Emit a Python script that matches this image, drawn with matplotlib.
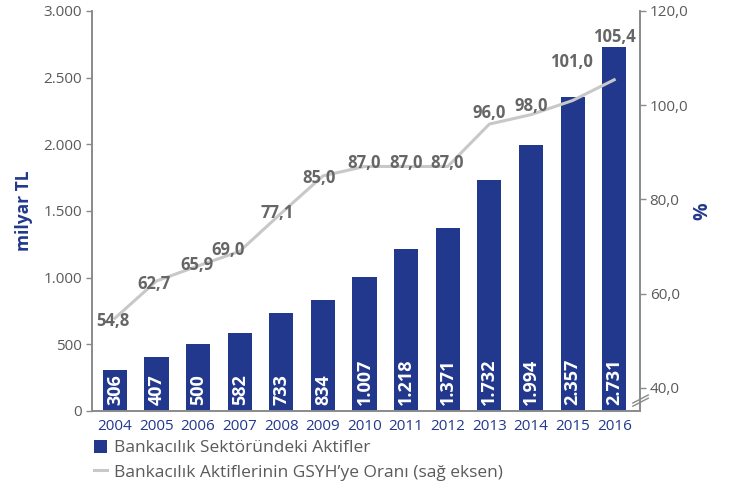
import matplotlib.pyplot as plt
from matplotlib.lines import Line2D
from matplotlib.patches import Patch
from matplotlib.ticker import FuncFormatter

plt.rcParams['font.family'] = ['Open Sans', 'DejaVu Sans']

years = ['2004', '2005', '2006', '2007', '2008', '2009', '2010',
         '2011', '2012', '2013', '2014', '2015', '2016']
assets = [306, 407, 500, 582, 733, 834, 1007, 1218, 1371, 1732, 1994, 2357, 2731]
gdp_ratio = [54.8, 62.7, 65.9, 69.0, 77.1, 85.0, 87.0, 87.0, 87.0, 96.0, 98.0, 101.0, 105.4]

navy = '#21388c'
grey_line = '#c8c8c8'
grey_axis = '#8a8a8a'
grey_text = '#5a5a5a'

# label nudges in pixels (x, y)
ratio_offsets = [(-2, -3), (-2, -3), (-1, 1), (-12, 1), (-4, 0), (-4, -2), (0, 3),
                 (0, 3), (-1, 3), (0, 11), (0, 9), (-1, 39), (0, 43)]


def tr_thousands(v, pos):
    return f"{int(v):,}".replace(",", ".")


def tr_decimal(v, pos):
    return f"{v:.1f}".replace(".", ",")


fig = plt.figure(figsize=(7.34, 4.92), dpi=100)
ax1 = fig.add_axes([92 / 734, 1 - 411 / 492, 548 / 734, 400 / 492])
ax2 = ax1.twinx()

x = list(range(len(years)))
ax1.bar(x, assets, width=0.58, color=navy, zorder=2)
for i, v in enumerate(assets):
    ax1.text(i, 45, tr_thousands(v, None), rotation=90, ha='center', va='bottom',
             color='white', fontsize=13, fontweight='bold', zorder=3)

ax1.set_xlim(-0.55, 12.62)
ax1.set_ylim(0, 3000)
ax1.set_yticks(range(0, 3001, 500))
ax1.yaxis.set_major_formatter(FuncFormatter(tr_thousands))
ax1.set_xticks(x)
ax1.set_xticklabels(years)
ax1.tick_params(axis='x', length=0, pad=6, labelsize=11, labelcolor=navy)
ax1.tick_params(axis='y', length=4, width=1, color=grey_axis, pad=3,
                labelsize=11, labelcolor=grey_text)
ax1.set_ylabel('milyar TL', color=navy, fontsize=12.5, fontweight='bold', labelpad=8)

ax2.plot(x, gdp_ratio, color=grey_line, lw=2.2, zorder=4)
for i, v in enumerate(gdp_ratio):
    dx, dy = ratio_offsets[i]
    ax2.annotate(tr_decimal(v, None), (i, v), xytext=(dx * 0.72, dy * 0.72),
                 textcoords='offset points', ha='center', va='center',
                 color='#666666', fontsize=12, fontweight='bold', zorder=5)

ax2.set_ylim(35.1, 120)
ax2.set_yticks([40, 60, 80, 100, 120])
ax2.yaxis.set_major_formatter(FuncFormatter(tr_decimal))
ax2.tick_params(axis='y', length=4, width=1, color=grey_axis, pad=3,
                labelsize=11, labelcolor=grey_text)
ax2.set_ylabel('%', color=navy, fontsize=14, fontweight='bold', labelpad=3)

for ax in (ax1, ax2):
    ax.spines['top'].set_visible(False)
    for side in ('left', 'right', 'bottom'):
        ax.spines[side].set_color(grey_axis)
        ax.spines[side].set_linewidth(1.2)

# break marks on the right axis
for off in (0.0, 0.008):
    ax2.plot([0.987, 1.015], [0.012 + off, 0.032 + off], transform=ax2.transAxes,
             color=grey_axis, lw=1, clip_on=False)

handles = [Patch(facecolor=navy, edgecolor='none'),
           Line2D([0], [0], color=grey_line, lw=2.2)]
labels = ['Bankacılık Sektöründeki Aktifler',
          'Bankacılık Aktiflerinin GSYH’ye Oranı (sağ eksen)']
leg = ax1.legend(handles, labels, loc='upper left',
                 bbox_to_anchor=(94 / 734, 1 - 440 / 492), bbox_transform=fig.transFigure,
                 frameon=False, fontsize=12.5, handlelength=0.75, handleheight=0.75,
                 handletextpad=0.4, labelspacing=0.45, borderpad=0, borderaxespad=0)
for t in leg.get_texts():
    t.set_color(grey_text)

fig.savefig('out.png', dpi=100)
